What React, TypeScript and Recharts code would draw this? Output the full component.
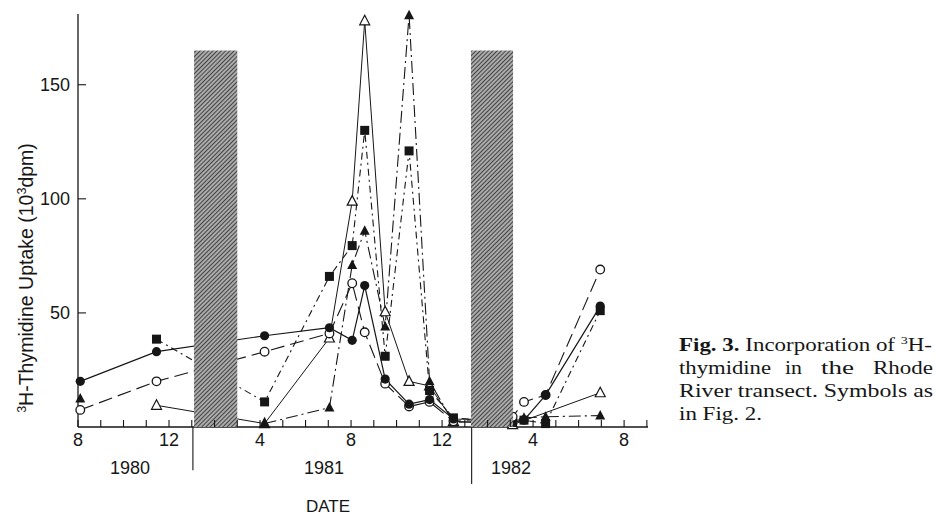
import React from "react";
import { ComposedChart, Line, XAxis, YAxis, ReferenceArea, ReferenceLine } from "recharts";

// sampling dates, in months counted from Jan 1980 (8 = Aug 1980, 20 = Aug 1981 ...)
const dates = [8.1, 11.45, 16.2, 19.05, 20.05, 20.6, 21.5, 22.55, 23.45, 24.5, 27.1, 27.6, 28.55, 30.95];

// 3H-thymidine uptake, 10^3 dpm
const filledCircle = [20, 33, 40, 43.5, 38, 62, 21, 10, 12, 3.5, null, 3, 14, 53];
const openCircle = [7.5, 20, 33, 41, 63, 41.5, 19, 9, 11, 2.5, 4.5, 11, 14, 69];
const filledSquare = [null, 38.5, 11, 66, 79.5, 130, 31, 121, 16, 4, 2, 3, 1.5, 51];
const filledTriangle = [12.5, null, 1.5, 8.5, 71, 86, 44, 180.5, 20, 2, 3, 4, 4.5, 5];
const openTriangle = [null, 9.5, 1.5, 39, 99, 178, 50.5, 20, 18, 2.5, 1, null, null, 15];

const monthTicks = [8, 9, 10, 11, 12, 13, 14, 15, 16, 17, 18, 19, 20, 21, 22, 23, 24, 25, 26, 27, 28, 29, 30, 31, 32, 33];
const labelTicks = [8, 12, 16, 20, 24, 28, 32];
const yTicks = [50, 100, 150];

// gaps between cruises (no sampling)
const gaps = [
  { from: 13.1, to: 15.0, top: 165 },
  { from: 25.27, to: 27.12, top: 165 },
];
const yearBreaks = [
  { at: 13.05, depth: -19 },
  { at: 25.3, depth: -25 },
];

const data = dates.map((d, i) => ({
  date: d,
  fc: filledCircle[i],
  oc: openCircle[i],
  fs: filledSquare[i],
  ft: filledTriangle[i],
  ot: openTriangle[i],
}));

const INK = "#161616";
const SANS = "'Liberation Sans', Arial, sans-serif";
const SERIF = "'Liberation Serif', 'Times New Roman', serif";

const mark = (kind: string) => (p: any) => {
  const { cx, cy, index } = p;
  if (cx == null || cy == null) return <g key={index} />;
  if (kind === "fc") return <circle key={index} cx={cx} cy={cy} r={4.6} fill={INK} />;
  if (kind === "oc")
    return <circle key={index} cx={cx} cy={cy} r={4.3} fill="#fff" stroke={INK} strokeWidth={1.3} />;
  if (kind === "fs") return <rect key={index} x={cx - 4.5} y={cy - 4.5} width={9} height={9} fill={INK} />;
  const pts = `${cx},${cy - 5.5} ${cx + 5},${cy + 4} ${cx - 5},${cy + 4}`;
  if (kind === "ft") return <polygon key={index} points={pts} fill={INK} />;
  return <polygon key={index} points={pts} fill="#fff" stroke={INK} strokeWidth={1.2} />;
};

function XTick({ x, y, payload }: any) {
  const v = payload.value;
  const show = labelTicks.includes(v);
  const label = ((v - 1) % 12) + 1;
  return (
    <g>
      <line x1={x} x2={x} y1={y} y2={y - 7} stroke={INK} strokeWidth={1.1} />
      {show && (
        <text x={x} y={y + 19} textAnchor="middle" fontSize={18} fontFamily={SANS} fill={INK}>
          {label}
        </text>
      )}
    </g>
  );
}

function YTick({ x, y, payload }: any) {
  return (
    <g>
      <line x1={x} x2={x + 8} y1={y} y2={y} stroke={INK} strokeWidth={1.1} />
      <text x={x - 8} y={y + 6.5} textAnchor="end" fontSize={18} fontFamily={SANS} fill={INK}>
        {payload.value}
      </text>
    </g>
  );
}

export default function App() {
  return (
    <div style={{ position: "absolute", left: 0, top: 0, width: 936, height: 522, background: "#fff" }}>
      <ComposedChart width={936} height={522} data={data} margin={{ top: 14, right: 288, bottom: 65, left: 18 }}>
        <defs>
          <pattern id="hatch" width="3" height="3" patternUnits="userSpaceOnUse" patternTransform="rotate(45)">
            <rect width="3" height="3" fill="#aaa" />
            <line x1="0" y1="0" x2="0" y2="3" stroke="#2a2a2a" strokeWidth="1.6" />
          </pattern>
        </defs>
        <XAxis
          dataKey="date"
          type="number"
          domain={[8, 33.05]}
          ticks={monthTicks}
          height={30}
          tickSize={0}
          tickMargin={0}
          tickLine={false}
          tick={<XTick />}
          axisLine={{ stroke: INK, strokeWidth: 1.3 }}
          interval={0}
        />
        <YAxis
          type="number"
          domain={[0, 181]}
          ticks={yTicks}
          width={60}
          tickSize={0}
          tickMargin={0}
          tickLine={false}
          tick={<YTick />}
          axisLine={{ stroke: INK, strokeWidth: 1.3 }}
        />
        <Line dataKey="ot" stroke={INK} strokeWidth={1} connectNulls dot={mark("ot")} isAnimationActive={false} />
        <Line dataKey="ft" stroke={INK} strokeWidth={1.1} strokeDasharray="12 4 2 4" dot={mark("ft")} isAnimationActive={false} />
        <Line dataKey="fs" stroke={INK} strokeWidth={1.1} strokeDasharray="7 4 2 4" connectNulls dot={mark("fs")} isAnimationActive={false} />
        <Line dataKey="oc" stroke={INK} strokeWidth={1.1} strokeDasharray="14 6" connectNulls dot={mark("oc")} isAnimationActive={false} />
        <Line dataKey="fc" stroke={INK} strokeWidth={1.2} connectNulls dot={mark("fc")} isAnimationActive={false} />
        {gaps.map((g, i) => (
          <ReferenceArea
            key={i}
            x1={g.from}
            x2={g.to}
            y1={0}
            y2={g.top}
            fill="url(#hatch)"
            fillOpacity={1}
            stroke="none"
            ifOverflow="visible"
            {...({ zIndex: 1000 } as any)}
          />
        ))}
        {yearBreaks.map((b, i) => (
          <ReferenceLine
            key={i}
            segment={[{ x: b.at, y: 0 }, { x: b.at, y: b.depth }]}
            stroke={INK}
            strokeWidth={1.1}
            ifOverflow="visible"
          />
        ))}
      </ComposedChart>

      <svg width={936} height={522} style={{ position: "absolute", left: 0, top: 0, pointerEvents: "none" }}>
        <g fontFamily={SANS} fill={INK} fontSize={18}>
          <text x={130} y={474} textAnchor="middle">1980</text>
          <text x={324} y={474} textAnchor="middle">1981</text>
          <text x={511} y={474} textAnchor="middle">1982</text>
          <text x={328} y={512} textAnchor="middle" fontSize={17}>DATE</text>
          <text transform="translate(33,278) rotate(-90)" textAnchor="middle" fontSize={19.5}>
            <tspan fontSize={12.5} dy={-7}>3</tspan>
            <tspan dy={7}>H-Thymidine Uptake (10</tspan>
            <tspan fontSize={12.5} dy={-7}>3</tspan>
            <tspan dy={7}>dpm)</tspan>
          </text>
        </g>
        <g fontFamily={SERIF} fill={INK} fontSize={18}>
          <text x={679} y={351} textLength={253} lengthAdjust="spacingAndGlyphs">
            <tspan fontWeight="bold">Fig. 3.</tspan>
            <tspan> Incorporation of </tspan>
            <tspan fontSize={11} dy={-7}>3</tspan>
            <tspan dy={7}>H-</tspan>
          </text>
          <text x={679} y={374} textLength={92} lengthAdjust="spacingAndGlyphs">thymidine</text>
          <text x={785} y={374} textLength={17} lengthAdjust="spacingAndGlyphs">in</text>
          <text x={821} y={374} textLength={33} lengthAdjust="spacingAndGlyphs">the</text>
          <text x={873} y={374} textLength={60} lengthAdjust="spacingAndGlyphs">Rhode</text>
          <text x={679} y={397} textLength={254} lengthAdjust="spacingAndGlyphs">River transect. Symbols as</text>
          <text x={679} y={420} textLength={83} lengthAdjust="spacingAndGlyphs">in Fig. 2.</text>
        </g>
      </svg>
    </div>
  );
}
